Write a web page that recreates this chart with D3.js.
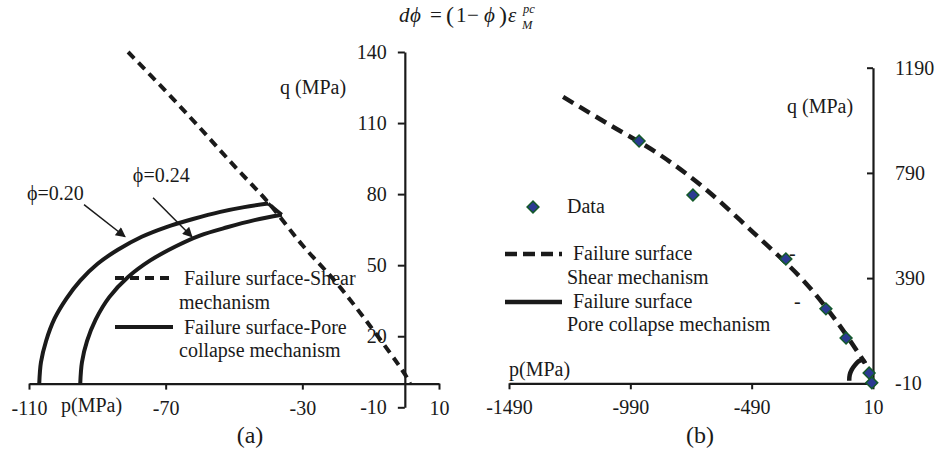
<!DOCTYPE html>
<html>
<head>
<meta charset="utf-8">
<script src="https://cdn.jsdelivr.net/npm/d3@7"></script>
<style>
  body { margin: 0; background: #fff; }
  svg text { font-family: "Liberation Serif", "Times New Roman", serif; fill: #1a1a1a; }
</style>
</head>
<body>
<svg id="chart" width="937" height="457"></svg>
<script>
// ---------- Panel (a): failure surfaces, p and q in MPa ----------
const shearPa = [-81, -70, -60, -50, -40, -30, -20, -10, 0, 1.5];
const shearQa = [140, 123.5, 108, 92, 76.5, 58.5, 42.5, 24, 4, 0];

// pore-collapse cap, porosity 0.20
const cap20P = [-107, -106.5, -105, -102.5, -99, -95, -90, -84, -77, -70, -62, -54, -47, -40];
const cap20Q = [0, 9, 18, 27.5, 36, 43.5, 50.5, 56.5, 62, 66, 69.5, 72.5, 74.5, 76];

// pore-collapse cap, porosity 0.24
const cap24P = [-95, -94.5, -93, -90.5, -86.5, -81, -74.5, -67, -60, -52, -44, -36];
const cap24Q = [0, 9, 18, 27, 36.5, 45, 52, 58, 62.5, 66, 69, 71.3];

const xTicksA = [-110, -70, -30, 10];
const yTicksA = [-10, 20, 50, 80, 110, 140];

// ---------- Panel (b): data and fitted surfaces ----------
const dataP = [-954, -732, -349, -184, -101, -6, 5];
const dataQ = [911, 706, 463, 273, 162, 29, -8];

const shearPb = [-1267, -1074, -880, -690, -485, -279, -138, -23];
const shearQb = [1079, 972, 866, 736, 565, 383, 223, 67];

const capPb = [-88, -86, -78, -64, -44, -30, -23];
const capQb = [0, 22, 41, 60, 76, 76, 66];

const xTicksB = [-1490, -990, -490, 10];
const yTicksB = [-10, 390, 790, 1190];

// annotation labels for the caps (data coordinates of panel a)
const capLabels = [
  { text: "ϕ=0.20", p: -110.6, q: 77.7, from: [-93.9, 75.6], to: [-81.9, 62.0] },
  { text: "ϕ=0.24", p: -79.6, q: 85.3, from: [-73.7, 78.5], to: [-62.3, 62.0] }
];

const zip = (xs, ys) => xs.map((x, i) => [x, ys[i]]);

const svg = d3.select("#chart");
const ink = "#1a1a1a";

svg.append("defs").append("marker")
  .attr("id", "arrowhead")
  .attr("viewBox", "0 0 10 10")
  .attr("refX", 9).attr("refY", 5)
  .attr("markerUnits", "userSpaceOnUse")
  .attr("markerWidth", 13).attr("markerHeight", 10)
  .attr("orient", "auto")
  .append("path").attr("d", "M0,0 L10,5 L0,10 Z").attr("fill", ink);

function styleAxis(g) {
  g.attr("font-size", null).attr("font-family", null);
  g.selectAll(".domain").attr("stroke", ink).attr("stroke-width", 2.2);
  g.selectAll(".tick line").attr("stroke", ink).attr("stroke-width", 2);
  g.selectAll(".tick text").attr("font-size", 20).attr("fill", ink);
}

// ---------- Title ----------
const title = svg.append("text").attr("font-size", 21);
title.append("tspan").attr("x", 399).attr("y", 22).attr("font-style", "italic").text("d");
title.append("tspan").attr("x", 410).attr("y", 22).attr("font-style", "italic").text("ϕ");
title.append("tspan").attr("x", 430).attr("y", 22).text("=");
title.append("tspan").attr("x", 446).attr("y", 23).attr("font-size", 24).text("(");
title.append("tspan").attr("x", 456).attr("y", 22).text("1");
title.append("tspan").attr("x", 467).attr("y", 22).text("−");
title.append("tspan").attr("x", 484).attr("y", 22).attr("font-style", "italic").text("ϕ");
title.append("tspan").attr("x", 499).attr("y", 23).attr("font-size", 24).text(")");
title.append("tspan").attr("x", 508).attr("y", 22).attr("font-style", "italic").text("ε");
svg.append("text").attr("x", 523).attr("y", 12.5).attr("font-size", 12.5)
  .attr("font-style", "italic").text("pc");
svg.append("text").attr("x", 522).attr("y", 28.5).attr("font-size", 12.5)
  .attr("font-style", "italic").text("M");

// ---------- Panel (a) ----------
const xA = d3.scaleLinear().domain([-110, 10]).range([29, 439]);
const yA = d3.scaleLinear().domain([-10, 140]).range([407.3, 52]);

const gA = svg.append("g");

gA.append("g")
  .attr("transform", `translate(0,${yA(0)})`)
  .call(d3.axisBottom(xA).tickValues(xTicksA).tickFormat(d => String(d))
    .tickSize(6).tickSizeOuter(0).tickPadding(11))
  .call(styleAxis);

gA.append("g")
  .attr("transform", `translate(${xA(0)},0)`)
  .call(d3.axisLeft(yA).tickValues(yTicksA).tickFormat(d => String(d))
    .tickSize(7).tickSizeOuter(0).tickPadding(11))
  .call(styleAxis);

gA.append("text").attr("x", 280).attr("y", 94).attr("font-size", 20).text("q (MPa)");
gA.append("text").attr("x", 61).attr("y", 412).attr("font-size", 20).text("p(MPa)");
gA.append("text").attr("x", 250).attr("y", 443).attr("font-size", 24).attr("text-anchor", "middle").text("(a)");

// legend (a)
gA.append("line").attr("x1", 115).attr("x2", 173).attr("y1", 278).attr("y2", 278)
  .attr("stroke", ink).attr("stroke-width", 4).attr("stroke-dasharray", "9,6");
gA.append("text").attr("x", 184).attr("y", 285).attr("font-size", 20).text("Failure surface-Shear");
gA.append("text").attr("x", 179).attr("y", 309).attr("font-size", 20).text("mechanism");
gA.append("line").attr("x1", 115).attr("x2", 173).attr("y1", 327).attr("y2", 327)
  .attr("stroke", ink).attr("stroke-width", 4);
gA.append("text").attr("x", 184).attr("y", 334).attr("font-size", 20).text("Failure surface-Pore");
gA.append("text").attr("x", 179).attr("y", 357).attr("font-size", 20).text("collapse mechanism");

const lineA = d3.line().x(d => xA(d[0])).y(d => yA(d[1])).curve(d3.curveCatmullRom.alpha(0.5));

gA.append("path").datum(zip(cap20P, cap20Q)).attr("d", lineA)
  .attr("fill", "none").attr("stroke", ink).attr("stroke-width", 4);
gA.append("path").datum(zip(cap24P, cap24Q)).attr("d", lineA)
  .attr("fill", "none").attr("stroke", ink).attr("stroke-width", 4);
// caps close against the shear surface between their two end points
gA.append("path")
  .datum([[cap20P[cap20P.length - 1], cap20Q[cap20Q.length - 1]],
          [cap24P[cap24P.length - 1], cap24Q[cap24Q.length - 1]]])
  .attr("d", d3.line().x(d => xA(d[0])).y(d => yA(d[1])))
  .attr("fill", "none").attr("stroke", ink).attr("stroke-width", 3.5);

gA.append("path").datum(zip(shearPa, shearQa)).attr("d", lineA)
  .attr("fill", "none").attr("stroke", ink).attr("stroke-width", 4)
  .attr("stroke-dasharray", "9,6");

capLabels.forEach(c => {
  gA.append("text").attr("x", xA(c.p)).attr("y", yA(c.q)).attr("font-size", 20).text(c.text);
  gA.append("line")
    .attr("x1", xA(c.from[0])).attr("y1", yA(c.from[1]))
    .attr("x2", xA(c.to[0])).attr("y2", yA(c.to[1]))
    .attr("stroke", ink).attr("stroke-width", 1.5)
    .attr("marker-end", "url(#arrowhead)");
});

// ---------- Panel (b) ----------
const xB = d3.scaleLinear().domain([-1490, 10]).range([509, 873]);
const yB = d3.scaleLinear().domain([-10, 1190]).range([383.3, 67.7]);

const gB = svg.append("g");

gB.append("g")
  .attr("transform", `translate(0,${yB(-10)})`)
  .call(d3.axisBottom(xB).tickValues(xTicksB).tickFormat(d => String(d))
    .tickSize(6).tickSizeOuter(0).tickPadding(11))
  .call(styleAxis);

gB.append("g")
  .attr("transform", `translate(${xB(10)},0)`)
  .call(d3.axisRight(yB).tickValues(yTicksB).tickFormat(d => String(d))
    .tickSize(-6).tickSizeOuter(0).tickPadding(22))
  .call(styleAxis);

gB.append("text").attr("x", 787).attr("y", 113).attr("font-size", 20).text("q (MPa)");
gB.append("text").attr("x", 509).attr("y", 376).attr("font-size", 20).text("p(MPa)");
gB.append("text").attr("x", 700).attr("y", 443).attr("font-size", 24).attr("text-anchor", "middle").text("(b)");

// legend (b)
const diamond = d3.symbol().type(d3.symbolSquare).size(70);
gB.append("path").attr("d", diamond)
  .attr("transform", "translate(533,207) rotate(45)")
  .attr("fill", "#2b3a92").attr("stroke", "#145a2a").attr("stroke-width", 1.5);
gB.append("text").attr("x", 567).attr("y", 213).attr("font-size", 20).text("Data");
gB.append("line").attr("x1", 505).attr("x2", 562).attr("y1", 254).attr("y2", 254)
  .attr("stroke", ink).attr("stroke-width", 4.5).attr("stroke-dasharray", "12,6");
gB.append("text").attr("x", 573).attr("y", 260).attr("font-size", 20).text("Failure surface");
gB.append("text").attr("x", 567).attr("y", 284).attr("font-size", 20).text("Shear mechanism");
gB.append("line").attr("x1", 505).attr("x2", 562).attr("y1", 302).attr("y2", 302)
  .attr("stroke", ink).attr("stroke-width", 4.5);
gB.append("text").attr("x", 573).attr("y", 308).attr("font-size", 20).text("Failure surface");
gB.append("text").attr("x", 567).attr("y", 331).attr("font-size", 20).text("Pore collapse mechanism");
gB.append("text").attr("x", 789).attr("y", 260).attr("font-size", 20).text("-");
gB.append("text").attr("x", 794).attr("y", 308).attr("font-size", 20).text("-");

const lineB = d3.line().x(d => xB(d[0])).y(d => yB(d[1])).curve(d3.curveCatmullRom.alpha(0.5));

gB.append("path").datum(zip(shearPb, shearQb)).attr("d", lineB)
  .attr("fill", "none").attr("stroke", ink).attr("stroke-width", 4.5)
  .attr("stroke-dasharray", "12,7");
gB.append("path").datum(zip(capPb, capQb)).attr("d", lineB)
  .attr("fill", "none").attr("stroke", ink).attr("stroke-width", 4.5);

gB.selectAll("path.pt").data(zip(dataP, dataQ)).enter().append("path")
  .attr("class", "pt")
  .attr("d", diamond)
  .attr("transform", d => `translate(${xB(d[0])},${yB(d[1])}) rotate(45)`)
  .attr("fill", "#2b3a92").attr("stroke", "#145a2a").attr("stroke-width", 1.5);
</script>
</body>
</html>
